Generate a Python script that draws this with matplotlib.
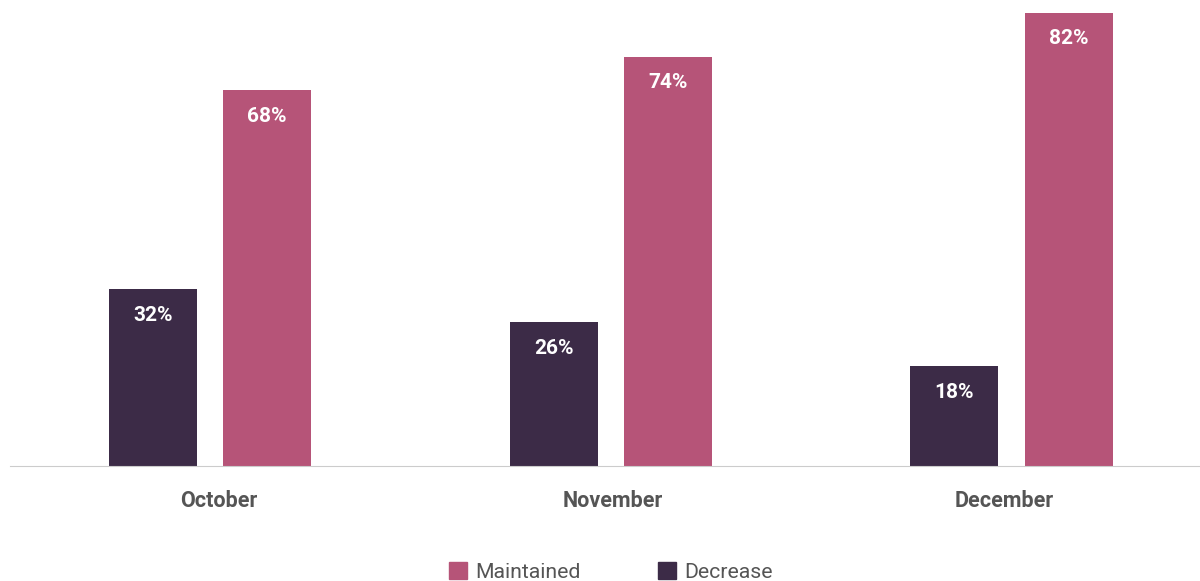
import numpy as np
import matplotlib.pyplot as plt
from matplotlib.patches import Patch

plt.rcParams['font.family'] = ['Roboto', 'DejaVu Sans']

months = ["October", "November", "December"]
decrease = [32, 26, 18]
maintained = [68, 74, 82]

dark = "#3c2b47"
pink = "#b65478"

fig = plt.figure(figsize=(12, 5.81), dpi=100)
ax = fig.add_axes([10 / 1200, 1 - 466 / 581, 1190 / 1200, 466 / 581])

x = np.arange(len(months))
w = 0.22
b1 = ax.bar(x - 0.143, decrease, w, color=dark)
b2 = ax.bar(x + 0.142, maintained, w, color=pink)

for bars, vals in [(b1, decrease), (b2, maintained)]:
    for b, v in zip(bars, vals):
        ax.text(b.get_x() + b.get_width() / 2, v - 4.7, f"{v}%", ha="center", va="center",
                color="white", fontsize=15, fontweight="bold")

ax.set_xlim(-0.5, 2.47)
ax.set_ylim(0, 84.3)
ax.set_yticks([])
# tick labels sit slightly off the group centres in the original
ax.set_xticks(x + np.array([0.02, 0.004, -0.018]))
ax.set_xticklabels(months, fontsize=15.5, fontweight="bold", color="#555555")
ax.tick_params(axis="x", length=0, pad=17)
for s in ["top", "right", "left"]:
    ax.spines[s].set_visible(False)
ax.spines["bottom"].set_color("#cccccc")

handles = [Patch(color=pink, label="Maintained"), Patch(color=dark, label="Decrease")]
fig.legend(handles=handles, loc="center", bbox_to_anchor=(0.509, 0.015), ncol=2,
           frameon=False, fontsize=15.3, handlelength=0.85, handleheight=0.85,
           columnspacing=3.65, handletextpad=0.4, labelcolor="#555555")

fig.savefig("out.png", dpi=100)
